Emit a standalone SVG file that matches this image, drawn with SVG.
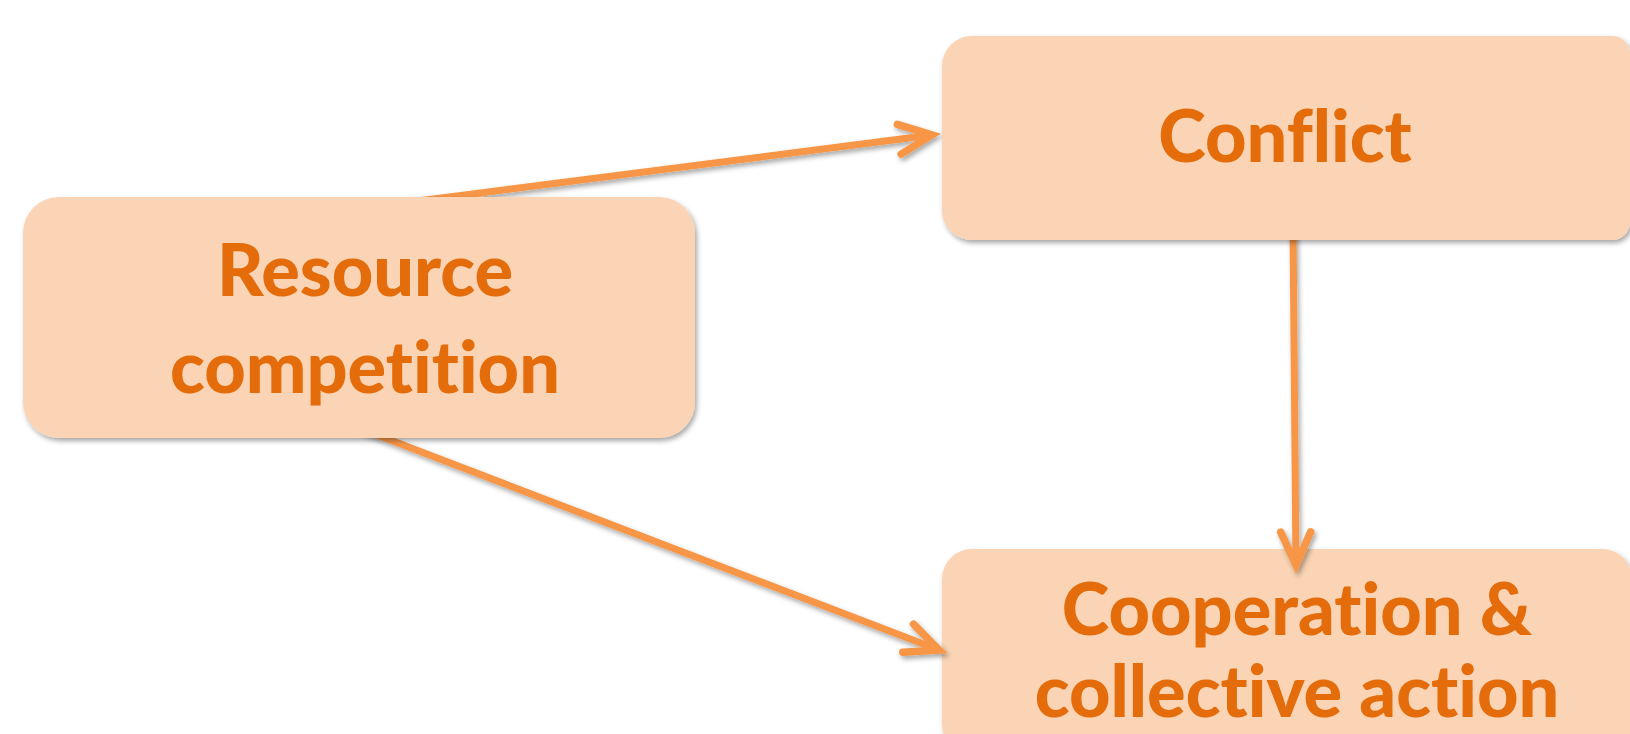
<svg xmlns="http://www.w3.org/2000/svg" width="1630" height="734" viewBox="0 0 1630 734">
  <style>
    .box { fill: #FAD4B4; filter: url(#shadow); }
    .label { font-family: Lato, "Open Sans", sans-serif; font-weight: 900; font-size: 72px; fill: #E46C0A; text-anchor: middle; font-variant-ligatures: none; font-feature-settings: "liga" 0, "clig" 0; }
    .link { fill: none; stroke: #F79646; stroke-width: 7; marker-end: url(#chevron); }
  </style>
  <defs>
    <filter id="shadow" x="-10%" y="-10%" width="120%" height="130%">
      <feDropShadow dx="2" dy="3" stdDeviation="2.5" flood-color="#000" flood-opacity="0.35"/>
    </filter>
    <marker id="chevron" markerUnits="userSpaceOnUse" markerWidth="60" markerHeight="60" viewBox="-40 -30 60 60" refX="0" refY="0" orient="auto">
      <path d="M-33,-15 L0,0 L-33,15" fill="none" stroke="#F79646" stroke-width="7.5" stroke-linecap="round" stroke-linejoin="miter"/>
    </marker>
  </defs>
  <rect width="1630" height="734" fill="#FFFFFF"/>

  <!-- lower right box sits under the vertical arrowhead -->
  <g id="node-cooperation">
    <rect class="box" x="942" y="549" width="690" height="205" rx="30"/>
    <text class="label" x="1297" y="635">Cooperation &amp;</text>
    <text class="label" x="1297" y="717">collective action</text>
  </g>

  <g id="connectors" filter="url(#shadow)">
    <line class="link" x1="410" y1="202" x2="932" y2="135"/>
    <line class="link" x1="330" y1="417" x2="939" y2="650"/>
    <line class="link" x1="1293" y1="225" x2="1296" y2="565"/>
  </g>

  <g id="node-resource">
    <rect class="box" x="23" y="197" width="672" height="241" rx="36"/>
    <text class="label" x="365" y="296">Resource</text>
    <text class="label" x="365" y="393">competition</text>
  </g>

  <g id="node-conflict">
    <path class="box" d="M972,36 H1612 A18,18 0 0 1 1630,54 V222 A18,18 0 0 1 1612,240 H972 A30,30 0 0 1 942,210 V66 A30,30 0 0 1 972,36 Z"/>
    <text class="label" x="1285" y="162">Conflict</text>
  </g>
</svg>
